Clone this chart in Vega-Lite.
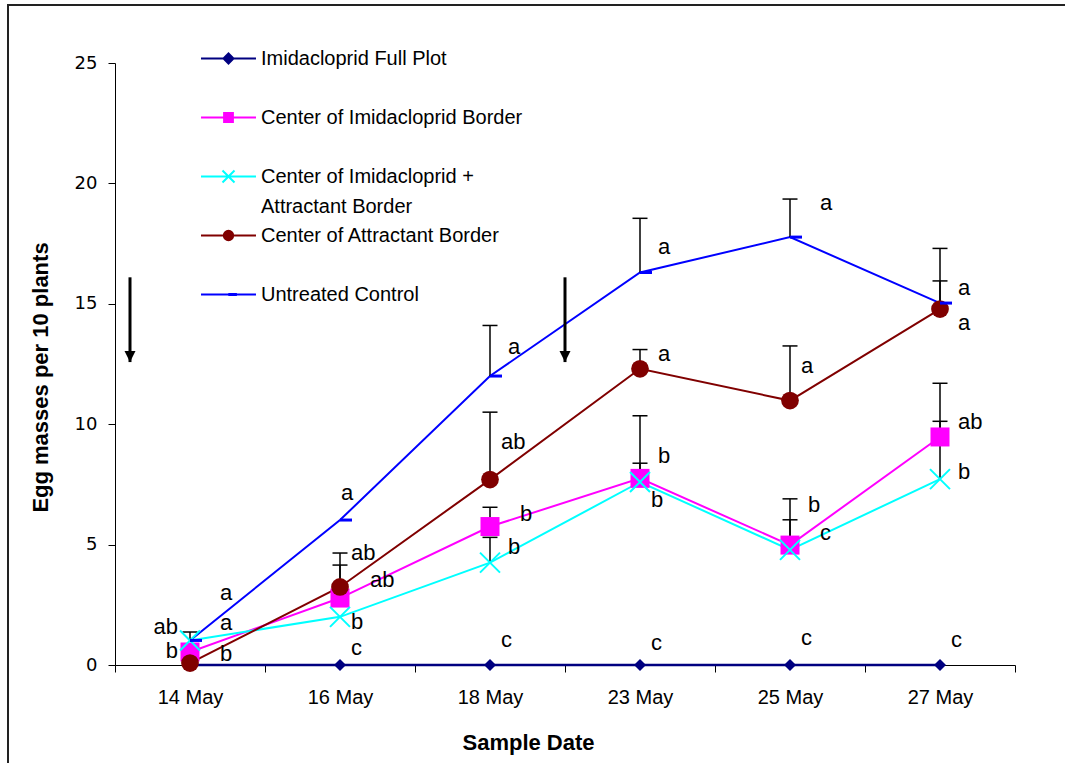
{
  "$schema": "https://vega.github.io/schema/vega-lite/v6.json",
  "width": 1057,
  "height": 758,
  "autosize": {"type": "none"},
  "padding": {"left": 8, "top": 5, "right": 0, "bottom": 0},
  "background": "white",
  "config": {
    "view": {"stroke": "#222222", "strokeWidth": 2, "strokeDash": [1057, 1815, 760, 1]},
    "font": "Liberation Sans",
    "style": {"guide-label": {"lineHeight": 30}},
    "axis": {"domainColor": "black", "tickColor": "black", "labelColor": "black", "titleColor": "black", "grid": false, "domainWidth": 1, "tickWidth": 1},
    "text": {"font": "Liberation Sans", "fontSize": 22, "color": "black", "baseline": "middle"},
    "legend": {
      "orient": "none",
      "legendX": 202,
      "legendY": 35,
      "padding": 0,
      "labelFont": "Liberation Sans",
      "labelFontSize": 20,
      "labelColor": "black",
      "labelLimit": 600,
      "labelOffset": 14,
      "symbolSize": 1180,
      "symbolStrokeWidth": 2,
      "rowPadding": 0
    }
  },
  "datasets": {
    "obs": [
      {"date": "14 May", "series": "Imidacloprid Full Plot", "mean": 0, "upper": null},
      {"date": "16 May", "series": "Imidacloprid Full Plot", "mean": 0, "upper": null},
      {"date": "18 May", "series": "Imidacloprid Full Plot", "mean": 0, "upper": null},
      {"date": "23 May", "series": "Imidacloprid Full Plot", "mean": 0, "upper": null},
      {"date": "25 May", "series": "Imidacloprid Full Plot", "mean": 0, "upper": null},
      {"date": "27 May", "series": "Imidacloprid Full Plot", "mean": 0, "upper": null},
      {"date": "14 May", "series": "Center of Imidacloprid Border", "mean": 0.54, "upper": null},
      {"date": "16 May", "series": "Center of Imidacloprid Border", "mean": 2.78, "upper": 4.15},
      {"date": "18 May", "series": "Center of Imidacloprid Border", "mean": 5.75, "upper": 6.55},
      {"date": "23 May", "series": "Center of Imidacloprid Border", "mean": 7.75, "upper": 10.35},
      {"date": "25 May", "series": "Center of Imidacloprid Border", "mean": 4.98, "upper": 6.9},
      {"date": "27 May", "series": "Center of Imidacloprid Border", "mean": 9.47, "upper": 11.7},
      {"date": "14 May", "series": "Center of Imidacloprid + Attractant Border", "mean": 1.02, "upper": null},
      {"date": "16 May", "series": "Center of Imidacloprid + Attractant Border", "mean": 2.0, "upper": null},
      {"date": "18 May", "series": "Center of Imidacloprid + Attractant Border", "mean": 4.25, "upper": 5.3},
      {"date": "23 May", "series": "Center of Imidacloprid + Attractant Border", "mean": 7.6, "upper": 8.38},
      {"date": "25 May", "series": "Center of Imidacloprid + Attractant Border", "mean": 4.78, "upper": 6.03},
      {"date": "27 May", "series": "Center of Imidacloprid + Attractant Border", "mean": 7.72, "upper": 10.12},
      {"date": "14 May", "series": "Center of Attractant Border", "mean": 0.08, "upper": null},
      {"date": "16 May", "series": "Center of Attractant Border", "mean": 3.24, "upper": 4.65},
      {"date": "18 May", "series": "Center of Attractant Border", "mean": 7.7, "upper": 10.5},
      {"date": "23 May", "series": "Center of Attractant Border", "mean": 12.3, "upper": 13.1},
      {"date": "25 May", "series": "Center of Attractant Border", "mean": 10.98, "upper": 13.25},
      {"date": "27 May", "series": "Center of Attractant Border", "mean": 14.78, "upper": 15.95},
      {"date": "14 May", "series": "Untreated Control", "mean": 1.02, "upper": 1.37},
      {"date": "16 May", "series": "Untreated Control", "mean": 6.02, "upper": null},
      {"date": "18 May", "series": "Untreated Control", "mean": 12.0, "upper": 14.1},
      {"date": "23 May", "series": "Untreated Control", "mean": 16.3, "upper": 18.55},
      {"date": "25 May", "series": "Untreated Control", "mean": 17.77, "upper": 19.35},
      {"date": "27 May", "series": "Untreated Control", "mean": 15.03, "upper": 17.3}
    ],
    "letters": [
      {"date": "14 May", "letter": "a", "at": 2.99, "side": "R3"},
      {"date": "14 May", "letter": "ab", "at": 1.58, "side": "L"},
      {"date": "14 May", "letter": "a", "at": 1.74, "side": "R3"},
      {"date": "14 May", "letter": "b", "at": 0.58, "side": "L"},
      {"date": "14 May", "letter": "b", "at": 0.46, "side": "R3"},
      {"date": "16 May", "letter": "a", "at": 7.14, "side": "C"},
      {"date": "16 May", "letter": "ab", "at": 4.65, "side": "R1"},
      {"date": "16 May", "letter": "ab", "at": 3.53, "side": "R3"},
      {"date": "16 May", "letter": "b", "at": 1.79, "side": "R1"},
      {"date": "16 May", "letter": "c", "at": 0.7, "side": "R1"},
      {"date": "18 May", "letter": "a", "at": 13.2, "side": "R2"},
      {"date": "18 May", "letter": "ab", "at": 9.26, "side": "R1"},
      {"date": "18 May", "letter": "b", "at": 6.27, "side": "R3"},
      {"date": "18 May", "letter": "b", "at": 4.9, "side": "R2"},
      {"date": "18 May", "letter": "c", "at": 1.04, "side": "R1"},
      {"date": "23 May", "letter": "a", "at": 17.36, "side": "R2"},
      {"date": "23 May", "letter": "a", "at": 12.9, "side": "R2"},
      {"date": "23 May", "letter": "b", "at": 8.68, "side": "R2"},
      {"date": "23 May", "letter": "b", "at": 6.85, "side": "R1"},
      {"date": "23 May", "letter": "c", "at": 0.9, "side": "R1"},
      {"date": "25 May", "letter": "a", "at": 19.2, "side": "R3"},
      {"date": "25 May", "letter": "a", "at": 12.4, "side": "R1"},
      {"date": "25 May", "letter": "b", "at": 6.64, "side": "R2"},
      {"date": "25 May", "letter": "c", "at": 5.48, "side": "R3"},
      {"date": "25 May", "letter": "c", "at": 1.12, "side": "R1"},
      {"date": "27 May", "letter": "a", "at": 15.66, "side": "R2"},
      {"date": "27 May", "letter": "a", "at": 14.2, "side": "R2"},
      {"date": "27 May", "letter": "ab", "at": 10.09, "side": "R2"},
      {"date": "27 May", "letter": "b", "at": 8.0, "side": "R2"},
      {"date": "27 May", "letter": "c", "at": 1.04, "side": "R1"}
    ],
    "sprays": [
      {"date": "14 May", "top": 16.1, "tip": 12.58},
      {"date": "23 May", "top": 16.1, "tip": 12.58}
    ]
  },
  "encoding": {
    "x": {
      "field": "date",
      "type": "ordinal",
      "title": "Sample Date",
      "sort": ["14 May", "16 May", "18 May", "23 May", "25 May", "27 May"],
      "scale": {"range": [107, 1007], "paddingInner": 0, "paddingOuter": 0},
      "axis": {
        "orient": "bottom",
        "offset": -98,
        "labelAngle": 0,
        "labelFont": "Liberation Sans",
        "labelFontSize": 20,
        "labelPadding": 15,
        "tickSize": 7,
        "tickBand": "extent",
        "titleFont": "Liberation Sans",
        "titleFontSize": 22,
        "titleFontWeight": "bold",
        "titlePadding": 25,
        "titleX": 520
      }
    }
  },
  "layer": [
    {
      "data": {"name": "obs"},
      "transform": [{"filter": "false"}],
      "mark": {"type": "point", "filled": true, "size": 1180, "strokeWidth": 2, "opacity": 1},
      "encoding": {
        "y": {
          "field": "mean",
          "type": "quantitative",
          "title": "Egg masses per 10 plants",
          "scale": {"domain": [0, 25], "range": [660, 58], "nice": false},
          "axis": {
            "offset": -107,
            "values": [0, 5, 10, 15, 20, 25],
            "labelFont": "DejaVu Sans",
            "labelFontSize": 18,
            "labelPadding": 11,
            "tickSize": 7,
            "titleFont": "Liberation Sans",
            "titleFontSize": 22,
            "titleFontWeight": "bold",
            "titlePadding": 22,
            "titleY": 372
          }
        },
        "color": {
          "field": "series",
          "type": "nominal",
          "scale": {
            "domain": ["Imidacloprid Full Plot", "Center of Imidacloprid Border", "Center of Imidacloprid + Attractant Border", "Center of Attractant Border", "Untreated Control"],
            "range": ["#000080", "#ff00ff", "#00ffff", "#800000", "#0000ff"]
          },
          "legend": {
            "title": null,
            "labelExpr": "datum.value == 'Center of Imidacloprid + Attractant Border' ? ['Center of Imidacloprid +', 'Attractant Border'] : [datum.label, '']"
          }
        },
        "stroke": {
          "field": "series",
          "type": "nominal",
          "scale": {
            "domain": ["Imidacloprid Full Plot", "Center of Imidacloprid Border", "Center of Imidacloprid + Attractant Border", "Center of Attractant Border", "Untreated Control"],
            "range": ["#000080", "#ff00ff", "#00ffff", "#800000", "#0000ff"]
          },
          "legend": {
            "title": null,
            "labelExpr": "datum.value == 'Center of Imidacloprid + Attractant Border' ? ['Center of Imidacloprid +', 'Attractant Border'] : [datum.label, '']"
          }
        },
        "shape": {
          "field": "series",
          "type": "nominal",
          "scale": {
            "domain": ["Imidacloprid Full Plot", "Center of Imidacloprid Border", "Center of Imidacloprid + Attractant Border", "Center of Attractant Border", "Untreated Control"],
            "range": [
              "M-1.6,0H1.6M-0.29,0L0,-0.29L0.29,0L0,0.29Z",
              "M-1.6,0H1.6M-0.256,-0.256H0.256V0.256H-0.256Z",
              "M-1.6,0H1.6M-0.35,-0.35L0.35,0.35M-0.35,0.35L0.35,-0.35",
              "M-1.6,0H1.6M-0.272,0A0.272,0.272,0,1,0,0.272,0A0.272,0.272,0,1,0,-0.272,0Z",
              "M-1.6,0H1.6M0.048,-0.032H0.43V0.032H0.048Z"
            ]
          },
          "legend": {
            "title": null,
            "labelExpr": "datum.value == 'Center of Imidacloprid + Attractant Border' ? ['Center of Imidacloprid +', 'Attractant Border'] : [datum.label, '']"
          }
        }
      }
    },
    {
      "data": {"name": "obs"},
      "transform": [{"filter": "datum.series == 'Imidacloprid Full Plot'"}],
      "mark": {"type": "line", "strokeWidth": 2.5, "color": "#000080"},
      "encoding": {"y": {"field": "mean", "type": "quantitative", "title": "Egg masses per 10 plants"}}
    },
    {
      "data": {"name": "obs"},
      "transform": [{"filter": "datum.series == 'Center of Imidacloprid Border'"}],
      "mark": {"type": "line", "strokeWidth": 2, "color": "#ff00ff"},
      "encoding": {"y": {"field": "mean", "type": "quantitative", "title": "Egg masses per 10 plants"}}
    },
    {
      "data": {"name": "obs"},
      "transform": [{"filter": "datum.series == 'Center of Imidacloprid + Attractant Border'"}],
      "mark": {"type": "line", "strokeWidth": 2, "color": "#00ffff"},
      "encoding": {"y": {"field": "mean", "type": "quantitative", "title": "Egg masses per 10 plants"}}
    },
    {
      "data": {"name": "obs"},
      "transform": [{"filter": "datum.series == 'Center of Attractant Border'"}],
      "mark": {"type": "line", "strokeWidth": 2, "color": "#800000"},
      "encoding": {"y": {"field": "mean", "type": "quantitative", "title": "Egg masses per 10 plants"}}
    },
    {
      "data": {"name": "obs"},
      "transform": [{"filter": "datum.series == 'Untreated Control'"}],
      "mark": {"type": "line", "strokeWidth": 2, "color": "#0000ff"},
      "encoding": {"y": {"field": "mean", "type": "quantitative", "title": "Egg masses per 10 plants"}}
    },
    {
      "data": {"name": "obs"},
      "transform": [{"filter": "datum.upper != null"}],
      "mark": {"type": "rule", "color": "black", "strokeWidth": 1.5},
      "encoding": {
        "y": {"field": "mean", "type": "quantitative", "title": "Egg masses per 10 plants"},
        "y2": {"field": "upper"}
      }
    },
    {
      "data": {"name": "obs"},
      "transform": [{"filter": "datum.upper != null"}],
      "mark": {"type": "point", "shape": "M-1,0H1", "size": 225, "filled": false, "stroke": "black", "strokeWidth": 1.5, "opacity": 1},
      "encoding": {"y": {"field": "upper", "type": "quantitative", "title": "Egg masses per 10 plants"}}
    },
    {
      "data": {"name": "obs"},
      "transform": [{"filter": "datum.series == 'Imidacloprid Full Plot'"}],
      "mark": {"type": "point", "shape": "diamond", "size": 144, "filled": true, "fill": "#000080", "strokeWidth": 0, "opacity": 1},
      "encoding": {"y": {"field": "mean", "type": "quantitative", "title": "Egg masses per 10 plants"}}
    },
    {
      "data": {"name": "obs"},
      "transform": [{"filter": "datum.series == 'Center of Imidacloprid Border'"}],
      "mark": {"type": "point", "shape": "square", "size": 361, "filled": true, "fill": "#ff00ff", "strokeWidth": 0, "opacity": 1},
      "encoding": {"y": {"field": "mean", "type": "quantitative", "title": "Egg masses per 10 plants"}}
    },
    {
      "data": {"name": "obs"},
      "transform": [{"filter": "datum.series == 'Center of Imidacloprid + Attractant Border'"}],
      "mark": {"type": "point", "shape": "M-1,-1L1,1M-1,1L1,-1", "size": 400, "filled": false, "stroke": "#00ffff", "strokeWidth": 2, "opacity": 1},
      "encoding": {"y": {"field": "mean", "type": "quantitative", "title": "Egg masses per 10 plants"}}
    },
    {
      "data": {"name": "obs"},
      "transform": [{"filter": "datum.series == 'Center of Attractant Border'"}],
      "mark": {"type": "point", "shape": "circle", "size": 314, "filled": true, "fill": "#800000", "strokeWidth": 0, "opacity": 1},
      "encoding": {"y": {"field": "mean", "type": "quantitative", "title": "Egg masses per 10 plants"}}
    },
    {
      "data": {"name": "obs"},
      "transform": [{"filter": "datum.series == 'Untreated Control'"}],
      "mark": {"type": "point", "shape": "M0,-0.25H2V0.25H0Z", "size": 144, "filled": true, "fill": "#0000ff", "strokeWidth": 0, "opacity": 1},
      "encoding": {"y": {"field": "mean", "type": "quantitative", "title": "Egg masses per 10 plants"}}
    },
    {
      "data": {"name": "letters"},
      "transform": [{"filter": "datum.side == 'R1'"}],
      "mark": {"type": "text", "align": "left", "dx": 11},
      "encoding": {"y": {"field": "at", "type": "quantitative", "title": "Egg masses per 10 plants"}, "text": {"field": "letter"}}
    },
    {
      "data": {"name": "letters"},
      "transform": [{"filter": "datum.side == 'R2'"}],
      "mark": {"type": "text", "align": "left", "dx": 18},
      "encoding": {"y": {"field": "at", "type": "quantitative", "title": "Egg masses per 10 plants"}, "text": {"field": "letter"}}
    },
    {
      "data": {"name": "letters"},
      "transform": [{"filter": "datum.side == 'R3'"}],
      "mark": {"type": "text", "align": "left", "dx": 30},
      "encoding": {"y": {"field": "at", "type": "quantitative", "title": "Egg masses per 10 plants"}, "text": {"field": "letter"}}
    },
    {
      "data": {"name": "letters"},
      "transform": [{"filter": "datum.side == 'L'"}],
      "mark": {"type": "text", "align": "right", "dx": -12},
      "encoding": {"y": {"field": "at", "type": "quantitative", "title": "Egg masses per 10 plants"}, "text": {"field": "letter"}}
    },
    {
      "data": {"name": "letters"},
      "transform": [{"filter": "datum.side == 'C'"}],
      "mark": {"type": "text", "align": "center", "dx": 7},
      "encoding": {"y": {"field": "at", "type": "quantitative", "title": "Egg masses per 10 plants"}, "text": {"field": "letter"}}
    },
    {
      "data": {"name": "sprays"},
      "transform": [{"filter": "datum.date == '14 May'"}],
      "layer": [
        {
          "mark": {"type": "rule", "color": "black", "strokeWidth": 3},
          "encoding": {
            "x": {"field": "date", "type": "ordinal", "title": "Sample Date", "bandPosition": 0.1},
            "y": {"field": "top", "type": "quantitative", "title": "Egg masses per 10 plants"},
            "y2": {"field": "tip"}
          }
        },
        {
          "mark": {"type": "point", "shape": "M-1,-2L1,-2L0,0Z", "size": 121, "filled": true, "fill": "black", "strokeWidth": 0, "opacity": 1},
          "encoding": {
            "x": {"field": "date", "type": "ordinal", "title": "Sample Date", "bandPosition": 0.1},
            "y": {"field": "tip", "type": "quantitative", "title": "Egg masses per 10 plants"}
          }
        }
      ]
    },
    {
      "data": {"name": "sprays"},
      "transform": [{"filter": "datum.date == '23 May'"}],
      "layer": [
        {
          "mark": {"type": "rule", "color": "black", "strokeWidth": 3},
          "encoding": {
            "x": {"field": "date", "type": "ordinal", "title": "Sample Date", "bandPosition": 0},
            "y": {"field": "top", "type": "quantitative", "title": "Egg masses per 10 plants"},
            "y2": {"field": "tip"}
          }
        },
        {
          "mark": {"type": "point", "shape": "M-1,-2L1,-2L0,0Z", "size": 121, "filled": true, "fill": "black", "strokeWidth": 0, "opacity": 1},
          "encoding": {
            "x": {"field": "date", "type": "ordinal", "title": "Sample Date", "bandPosition": 0},
            "y": {"field": "tip", "type": "quantitative", "title": "Egg masses per 10 plants"}
          }
        }
      ]
    }
  ]
}
